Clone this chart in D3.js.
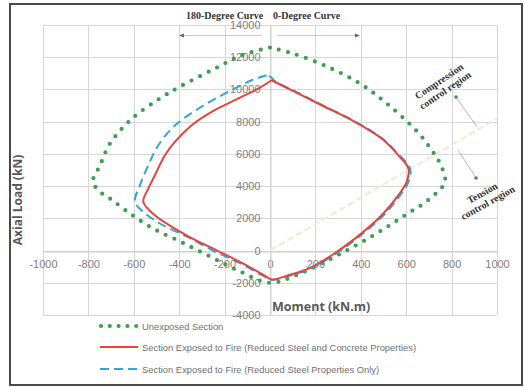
<!DOCTYPE html>
<html>
<head>
<meta charset="utf-8">
<script src="https://cdn.jsdelivr.net/npm/d3@7"></script>
<style>
  html, body { margin: 0; padding: 0; background: #fff; }
  svg { display: block; }
</style>
</head>
<body>
<svg id="chart" width="524" height="388"></svg>
<script>
// Interaction diagram: axial load (kN) vs moment (kN.m)
const xTicks = [-1000, -800, -600, -400, -200, 0, 200, 400, 600, 800, 1000];
const yTicks = [-4000, -2000, 0, 2000, 4000, 6000, 8000, 10000, 12000, 14000];

// Unexposed section
const unexposedM = [0, -120, -242, -396, -485, -608, -705, -749, -780, -745, -705, -617, -515, -396, -264, -132, 0, 132, 295, 454, 586, 705, 771, 749, 714, 648, 515, 396, 251, 101, 0];
const unexposedP = [12600, 12150, 11300, 10180, 9440, 8190, 6640, 5280, 4280, 3600, 3230, 2300, 1370, 560, -370, -1300, -2000, -1430, -310, 930, 2110, 3230, 4280, 5400, 6200, 7390, 9120, 10370, 11420, 12230, 12600];

// Exposed to fire: reduced steel and concrete properties
const redM = [7, -51, -139, -257, -345, -419, -463, -507, -536, -558, -507, -366, -233, -120, -13, 7, 81, 169, 272, 374, 492, 565, 602, 610, 565, 492, 374, 228, 110, 7];
const redP = [10570, 10060, 9440, 8610, 7780, 6750, 5920, 4670, 3850, 3020, 2190, 930, 0, -800, -1650, -1800, -1530, -1120, -290, 740, 2190, 3430, 4260, 5090, 5920, 6950, 7990, 9020, 9850, 10570];

// Exposed to fire: reduced steel properties only
const blueM = [-15, -81, -198, -316, -419, -492, -536, -573, -595, -558, -485, -366, -251, -125, -18, 10, 86, 176, 280, 382, 500, 573, 610, 617, 569, 495, 377, 231, 113, 20, 5, -15];
const blueP = [10880, 10570, 9750, 8800, 7760, 6540, 5300, 4050, 3020, 2400, 1680, 870, 0, -830, -1660, -1820, -1560, -1130, -290, 740, 2190, 3430, 4260, 5090, 5920, 6950, 7990, 9020, 9870, 10530, 10750, 10880];

// Balanced-failure reference line
const balancedM = [0, 1000];
const balancedP = [0, 8200];

const legendLabels = [
  "Unexposed Section",
  "Section Exposed to Fire (Reduced Steel and Concrete Properties)",
  "Section Exposed to Fire (Reduced Steel Properties Only)"
];

const svg = d3.select("#chart");
const x = d3.scaleLinear().domain([-1000, 1000]).range([43, 497]);
const y = d3.scaleLinear().domain([-4000, 14000]).range([315, 25]);

// outer frame
svg.append("rect").attr("x", 10).attr("y", 4).attr("width", 512).attr("height", 381)
  .attr("fill", "#fff").attr("stroke", "#4a4a4a").attr("stroke-width", 2);

// grid
const grid = svg.append("g").attr("stroke", "#d6d6d6").attr("stroke-width", 1);
grid.selectAll("line.v").data(xTicks).join("line")
  .attr("x1", d => Math.round(x(d)) + 0.5).attr("x2", d => Math.round(x(d)) + 0.5)
  .attr("y1", y(14000)).attr("y2", y(-4000));
grid.selectAll("line.h").data(yTicks).join("line").attr("class", "h")
  .attr("x1", x(-1000)).attr("x2", x(1000))
  .attr("y1", d => Math.round(y(d)) + 0.5).attr("y2", d => Math.round(y(d)) + 0.5);

// axes through origin
const fmt = d => String(d);
const xAxis = d3.axisBottom(x).tickValues(xTicks).tickFormat(fmt).tickSize(0).tickPadding(9);
const gx = svg.append("g").attr("transform", `translate(0,${Math.round(y(0)) + 0.5})`).call(xAxis);
const yAxis = d3.axisLeft(y).tickValues(yTicks).tickFormat(fmt).tickSize(0).tickPadding(10);
const gy = svg.append("g").attr("transform", `translate(${Math.round(x(0)) + 0.5},0)`).call(yAxis);
[gx, gy].forEach(g => {
  g.select(".domain").attr("stroke", "#cfcfcf");
  g.selectAll("text").attr("fill", "#808080").attr("font-size", 11)
    .attr("font-family", "'Liberation Sans', Arial, sans-serif");
});

// balanced line
svg.append("path")
  .attr("d", d3.line()(balancedM.map((m, i) => [x(m), y(balancedP[i])])))
  .attr("fill", "none").attr("stroke", "#f3ecd2").attr("stroke-width", 2.2)
  .attr("stroke-dasharray", "7,3");

const line = d3.line().x(d => x(d[0])).y(d => y(d[1])).curve(d3.curveCatmullRom.alpha(0.5));
const pts = (ms, ps) => ms.map((m, i) => [m, ps[i]]);

svg.append("path").attr("d", line(pts(unexposedM, unexposedP)))
  .attr("fill", "none").attr("stroke", "#3d9e54").attr("stroke-width", 4.2)
  .attr("stroke-linecap", "round").attr("stroke-dasharray", "0,9.5");

svg.append("path").attr("d", line(pts(blueM, blueP)))
  .attr("fill", "none").attr("stroke", "#2fa6da").attr("stroke-width", 2)
  .attr("stroke-dasharray", "9,5");

svg.append("path").attr("d", line(pts(redM, redP)))
  .attr("fill", "none").attr("stroke", "#e8423c").attr("stroke-width", 2);

// axis titles
svg.append("text").attr("x", 272).attr("y", 311).text("Moment (kN.m)")
  .attr("font-family", "'Open Sans', 'Liberation Sans', sans-serif").attr("font-weight", "bold")
  .attr("font-size", 12.5).attr("fill", "#5a5a5a");
svg.append("text").attr("transform", "translate(22,200) rotate(-90)").attr("text-anchor", "middle")
  .text("Axial Load  (kN)")
  .attr("font-family", "'Open Sans', 'Liberation Sans', sans-serif").attr("font-weight", "bold")
  .attr("font-size", 12).attr("fill", "#5a5a5a");

// curve direction labels
const serif = "'Liberation Serif', 'Times New Roman', serif";
svg.append("text").attr("x", 186).attr("y", 19).text("180-Degree Curve")
  .attr("font-family", serif).attr("font-weight", "bold").attr("font-size", 10).attr("fill", "#333");
svg.append("text").attr("x", 273).attr("y", 19).text("0-Degree Curve")
  .attr("font-family", serif).attr("font-weight", "bold").attr("font-size", 10).attr("fill", "#333");
svg.append("line").attr("x1", 181).attr("x2", 262).attr("y1", 35.5).attr("y2", 35.5).attr("stroke", "#c8c8c8");
svg.append("line").attr("x1", 277).attr("x2", 358).attr("y1", 35.5).attr("y2", 35.5).attr("stroke", "#c8c8c8");
svg.append("path").attr("d", "M179,35.5 l5,-2 l0,4 z").attr("fill", "#4a6a9a");
svg.append("path").attr("d", "M360,35.5 l-5,-2 l0,4 z").attr("fill", "#4a6a9a");

// region labels
const region = (cx, cy, ang, lines) => {
  const t = svg.append("text").attr("transform", `translate(${cx},${cy}) rotate(${ang})`)
    .attr("text-anchor", "middle").attr("font-family", serif).attr("font-weight", "bold")
    .attr("font-size", 10).attr("fill", "#333");
  lines.forEach((s, i) => t.append("tspan").attr("x", 0).attr("dy", i === 0 ? 0 : 11).text(s));
};
region(441, 84, -34, ["Compression", "control region"]);
region(484, 196, -29, ["Tension", "control region"]);
svg.append("line").attr("x1", 456).attr("y1", 97).attr("x2", 477).attr("y2", 127).attr("stroke", "#b8b8b8");
svg.append("line").attr("x1", 476).attr("y1", 178).attr("x2", 458).attr("y2", 150).attr("stroke", "#b8b8b8");
svg.append("circle").attr("cx", 456).attr("cy", 97).attr("r", 1.8).attr("fill", "#4a78b0");
svg.append("circle").attr("cx", 476).attr("cy", 178).attr("r", 1.8).attr("fill", "#4a78b0");

// legend
const lg = svg.append("g");
const rows = [326, 347, 369];
lg.append("line").attr("x1", 101).attr("x2", 137).attr("y1", rows[0]).attr("y2", rows[0])
  .attr("stroke", "#3d9e54").attr("stroke-width", 4.2).attr("stroke-linecap", "round").attr("stroke-dasharray", "0,8.8");
lg.append("line").attr("x1", 100).attr("x2", 138).attr("y1", rows[1]).attr("y2", rows[1])
  .attr("stroke", "#e8423c").attr("stroke-width", 2);
lg.append("line").attr("x1", 100).attr("x2", 138).attr("y1", rows[2]).attr("y2", rows[2])
  .attr("stroke", "#2fa6da").attr("stroke-width", 2).attr("stroke-dasharray", "9,5");
legendLabels.forEach((s, i) => {
  lg.append("text").attr("x", 142).attr("y", rows[i] + 3.5).text(s)
    .attr("font-family", "'Liberation Sans', Arial, sans-serif").attr("font-size", 9.4)
    .attr("fill", "#707070");
});
</script>
</body>
</html>
